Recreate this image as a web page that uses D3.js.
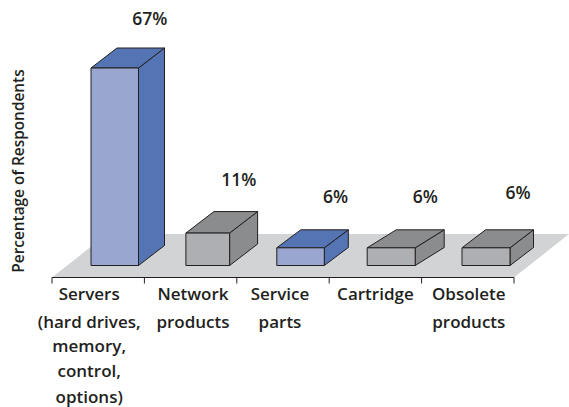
<!DOCTYPE html>
<html>
<head>
<meta charset="utf-8">
<script src="https://cdn.jsdelivr.net/npm/d3@7"></script>
<style>
  html, body { margin: 0; padding: 0; background: #fff; }
  text { font-family: "Open Sans", sans-serif; font-weight: 600; fill: #231f20; }
</style>
</head>
<body>
<div id="chart"></div>
<script>
// chart data
var categories = ["Servers", "Network", "Service", "Cartridge", "Obsolete"];
var categoryLines = [
    ["Servers", "(hard drives,", "memory,", "control,", "options)"],
    ["Network", "products"],
    ["Service", "parts"],
    ["Cartridge"],
    ["Obsolete", "products"]
];
var values = [67, 11, 6, 6, 6];
var valueLabels = ["67%", "11%", "6%", "6%", "6%"];
var highlighted = [true, false, true, false, false];
var yTitle = "Percentage of Respondents";

var svgWidth = 569;
var svgHeight = 407;

var svg = d3.select("#chart")
    .append("svg")
    .attr("width", svgWidth)
    .attr("height", svgHeight)
    .style("display", "block");

// scales
var xScale = d3.scaleBand()
    .domain(categories)
    .range([52, 514]);

var yScale = d3.scaleLinear()
    .domain([0, 67])
    .range([265.5, 68]);

// the bars in the picture are not quite regular, so small nudges per bar
var barLeft = [39, 41.5, 40, 38, 40.4];
var barWidth = [47.5, 43.7, 47.5, 48, 48];
var depthX = [26, 28, 24, 29, 23.5];
var depthY = [20, 21.5, 18, 18, 18];
var labelDx = [35, 31, 35, 34, 32];
var labelDy = [-43, -47, -45, -45, -49];
var tickLabelDx = [-9, 2.4, -3, 0, 1];
var lineBaselines = [300, 328, 352, 377, 403];

var palette = {
    blue: { front: "#98a6d0", top: "#5574b4", side: "#5574b4" },
    grey: { front: "#adafb2", top: "#8a8c8e", side: "#8a8c8e" }
};

// floor
var axisY = 277.5;
var floorTop = 234;
svg.append("polygon")
    .attr("points", [[52, axisY], [107, floorTop], [569, floorTop], [514, axisY]].join(" "))
    .attr("fill", "#d1d3d4");

// axis line and ticks at the band edges
var tickValues = xScale.domain().map(function (d) { return xScale(d); }).concat(xScale.range()[1]);
var axis = svg.append("g").attr("class", "x-axis");
axis.append("line")
    .attr("x1", 52)
    .attr("x2", 514)
    .attr("y1", axisY)
    .attr("y2", axisY)
    .attr("stroke", "#231f20")
    .attr("stroke-width", 1);
axis.selectAll(".tick")
    .data(tickValues)
    .enter()
    .append("line")
    .attr("class", "tick")
    .attr("x1", function (d) { return d; })
    .attr("x2", function (d) { return d; })
    .attr("y1", axisY)
    .attr("y2", axisY + 6)
    .attr("stroke", "#231f20")
    .attr("stroke-width", 1);

// 3d bars
var bars = svg.selectAll(".bar")
    .data(values)
    .enter()
    .append("g")
    .attr("class", "bar")
    .attr("stroke", "#231f20")
    .attr("stroke-width", 1)
    .attr("stroke-linejoin", "round");

function barBox(d, i) {
    var x0 = xScale(categories[i]) + barLeft[i];
    return { x0: x0, x1: x0 + barWidth[i], y0: yScale(d), y1: yScale(0), dx: depthX[i], dy: depthY[i] };
}

bars.append("polygon")
    .attr("points", function (d, i) {
        var b = barBox(d, i);
        return [[b.x1, b.y0], [b.x1 + b.dx, b.y0 - b.dy], [b.x1 + b.dx, b.y1 - b.dy], [b.x1, b.y1]].join(" ");
    })
    .attr("fill", function (d, i) { return highlighted[i] ? palette.blue.side : palette.grey.side; });

bars.append("polygon")
    .attr("points", function (d, i) {
        var b = barBox(d, i);
        return [[b.x0, b.y0], [b.x0 + b.dx, b.y0 - b.dy], [b.x1 + b.dx, b.y0 - b.dy], [b.x1, b.y0]].join(" ");
    })
    .attr("fill", function (d, i) { return highlighted[i] ? palette.blue.top : palette.grey.top; });

bars.append("rect")
    .attr("x", function (d, i) { return barBox(d, i).x0; })
    .attr("y", function (d, i) { return barBox(d, i).y0; })
    .attr("width", function (d, i) { return barWidth[i]; })
    .attr("height", function (d, i) { var b = barBox(d, i); return b.y1 - b.y0; })
    .attr("fill", function (d, i) { return highlighted[i] ? palette.blue.front : palette.grey.front; });

// value labels
svg.selectAll(".value-label")
    .data(values)
    .enter()
    .append("text")
    .attr("class", "value-label")
    .attr("x", function (d, i) { var b = barBox(d, i); return (b.x0 + b.x1) / 2 + labelDx[i]; })
    .attr("y", function (d, i) { return yScale(d) + labelDy[i]; })
    .attr("text-anchor", "middle")
    .attr("font-size", 17.5)
    .text(function (d, i) { return valueLabels[i]; });

// category labels
var tickLabels = svg.selectAll(".cat-label")
    .data(categoryLines)
    .enter()
    .append("text")
    .attr("class", "cat-label")
    .attr("text-anchor", "middle")
    .attr("font-size", 17);

tickLabels.selectAll("tspan")
    .data(function (lines, i) { return lines.map(function (l) { return { text: l, cat: i }; }); })
    .enter()
    .append("tspan")
    .attr("x", function (d) { return xScale(categories[d.cat]) + xScale.bandwidth() / 2 + tickLabelDx[d.cat]; })
    .attr("y", function (d, j) { return lineBaselines[j]; })
    .text(function (d) { return d.text; });

// y title
svg.append("text")
    .attr("transform", "translate(23.5, 171) rotate(-90)")
    .attr("text-anchor", "middle")
    .attr("font-size", 15.4)
    .text(yTitle);
</script>
</body>
</html>
